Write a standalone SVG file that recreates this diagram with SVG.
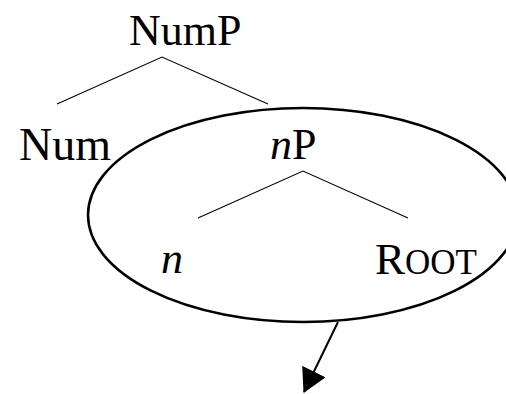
<svg xmlns="http://www.w3.org/2000/svg" width="506" height="394" viewBox="0 0 506 394">
<style>
.t{font-family:"Liberation Serif","Times New Roman",serif;font-size:44px;fill:#000}
.i{font-style:italic}
.sc{font-size:35px}
.e{fill:none;stroke:#000;stroke-width:2.5}
.l{stroke:#000;stroke-width:1.1;fill:none}
.a{stroke:#000;stroke-width:2;fill:none}
</style>
<defs>
<marker id="ah" markerUnits="userSpaceOnUse" markerWidth="24" markerHeight="26" refX="21" refY="12" orient="auto" viewBox="0 0 22 24">
<path d="M0,0 L22,12 L0,24 Z" fill="#000"/>
</marker>
</defs>
<rect width="506" height="394" fill="#fff"/>
<g id="domain">
<ellipse class="e" cx="303" cy="215" rx="215" ry="107"/>
</g>
<g id="connectors">
<path class="l" d="M57,104 L162,57 L268,104"/>
<path class="l" d="M198,218 L303,171 L408,218"/>
<path class="a" d="M338,322 L304,392" marker-end="url(#ah)"/>
</g>
<g id="NumP"><text class="t" x="129" y="45">NumP</text></g>
<g id="Num"><text class="t" x="19" y="160" style="font-size:46px">Num</text></g>
<g id="nP"><text class="t" x="270" y="159"><tspan class="i">n</tspan>P</text></g>
<g id="n"><text class="t i" x="161" y="273">n</text></g>
<g id="ROOT"><text class="t" x="375" y="274" style="font-size:45px">R<tspan class="sc">OOT</tspan></text></g>
</svg>
